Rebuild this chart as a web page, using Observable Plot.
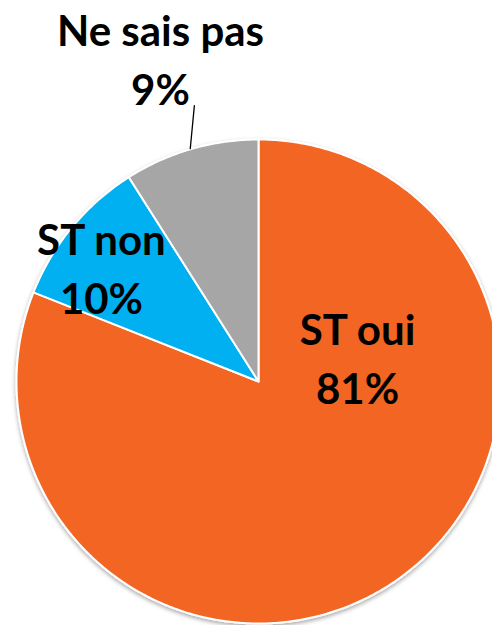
<!DOCTYPE html>
<html>
<head>
<meta charset="utf-8">
<script src="https://cdn.jsdelivr.net/npm/d3@7"></script>
<script src="https://cdn.jsdelivr.net/npm/@observablehq/plot@0.6"></script>
<style>
  html, body { margin: 0; padding: 0; background: #fff; }
  #chart { width: 492px; height: 625px; }
</style>
</head>
<body>
<div id="chart"></div>
<script>
// ---- data ----
const categories = ["ST oui", "ST non", "Ne sais pas"];
const values = [81, 10, 9];
const valueLabels = ["81%", "10%", "9%"];
const colors = ["#F26522", "#00B0F0", "#A6A6A6"];

// ---- layout (pixels / radius units) ----
const W = 492, H = 625;
const cx = 258, cy = 381, R = 242;
// label anchors in radius units relative to pie centre (x right, y up)
const labelAnchors = [
  {dx: 0.409, dy: 0.083},  // ST oui
  {dx: -0.649, dy: 0.455}, // ST non
  {dx: -0.405, dy: 1.322}  // Ne sais pas (outside)
];
const leader = [{dx: -0.265, dy: 1.14}, {dx: -0.282, dy: 0.962}];

const pie = d3.pie().sort(null).value(d => d.value)(
  categories.map((c, i) => ({label: c, value: values[i]}))
);

// slice outlines in radius units (clockwise from 12 o'clock)
const polys = [];
pie.forEach(p => {
  const n = Math.max(4, Math.ceil((p.endAngle - p.startAngle) / 0.01));
  polys.push({label: p.data.label, x: 0, y: 0});
  for (let k = 0; k <= n; k++) {
    const t = p.startAngle + (p.endAngle - p.startAngle) * k / n;
    polys.push({label: p.data.label, x: Math.sin(t), y: Math.cos(t)});
  }
  polys.push({label: p.data.label, x: 0, y: 0});
});

const labels = categories.map((c, i) => ({
  label: c, value: valueLabels[i], x: labelAnchors[i].dx, y: labelAnchors[i].dy
}));

const xDomain = [-cx / R, (W - cx) / R];
const yDomain = [-(H - cy) / R, cy / R];

const plot = Plot.plot({
  width: W,
  height: H,
  margin: 0,
  x: {domain: xDomain, axis: null},
  y: {domain: yDomain, axis: null},
  color: {domain: categories, range: colors},
  style: {fontFamily: "Lato, 'Open Sans', sans-serif", background: "#fff"},
  marks: [
    Plot.line(polys, {x: "x", y: "y", z: "label", fill: "label", stroke: "#fff", strokeWidth: 2, strokeLinejoin: "round"}),
    Plot.line(leader, {x: "dx", y: "dy", stroke: "#000", strokeWidth: 1.3}),
    Plot.text(labels, {x: "x", y: "y", text: "label", dy: -29.5, fontSize: 42, fontWeight: "bold", fill: "#000"}),
    Plot.text(labels, {x: "x", y: "y", text: "value", dy: 29.5, fontSize: 42, fontWeight: "bold", fill: "#000"})
  ]
});

// subtle drop shadow on the pie
const svg = d3.select(plot);
const defs = svg.insert("defs", ":first-child");
const f = defs.append("filter").attr("id", "pieShadow").attr("x", "-10%").attr("y", "-10%").attr("width", "120%").attr("height", "120%");
f.append("feDropShadow").attr("dx", 0).attr("dy", 2).attr("stdDeviation", 2).attr("flood-color", "#000").attr("flood-opacity", 0.35);
svg.select("g[aria-label='line']").attr("filter", "url(#pieShadow)");

document.getElementById("chart").appendChild(plot);
</script>
</body>
</html>
